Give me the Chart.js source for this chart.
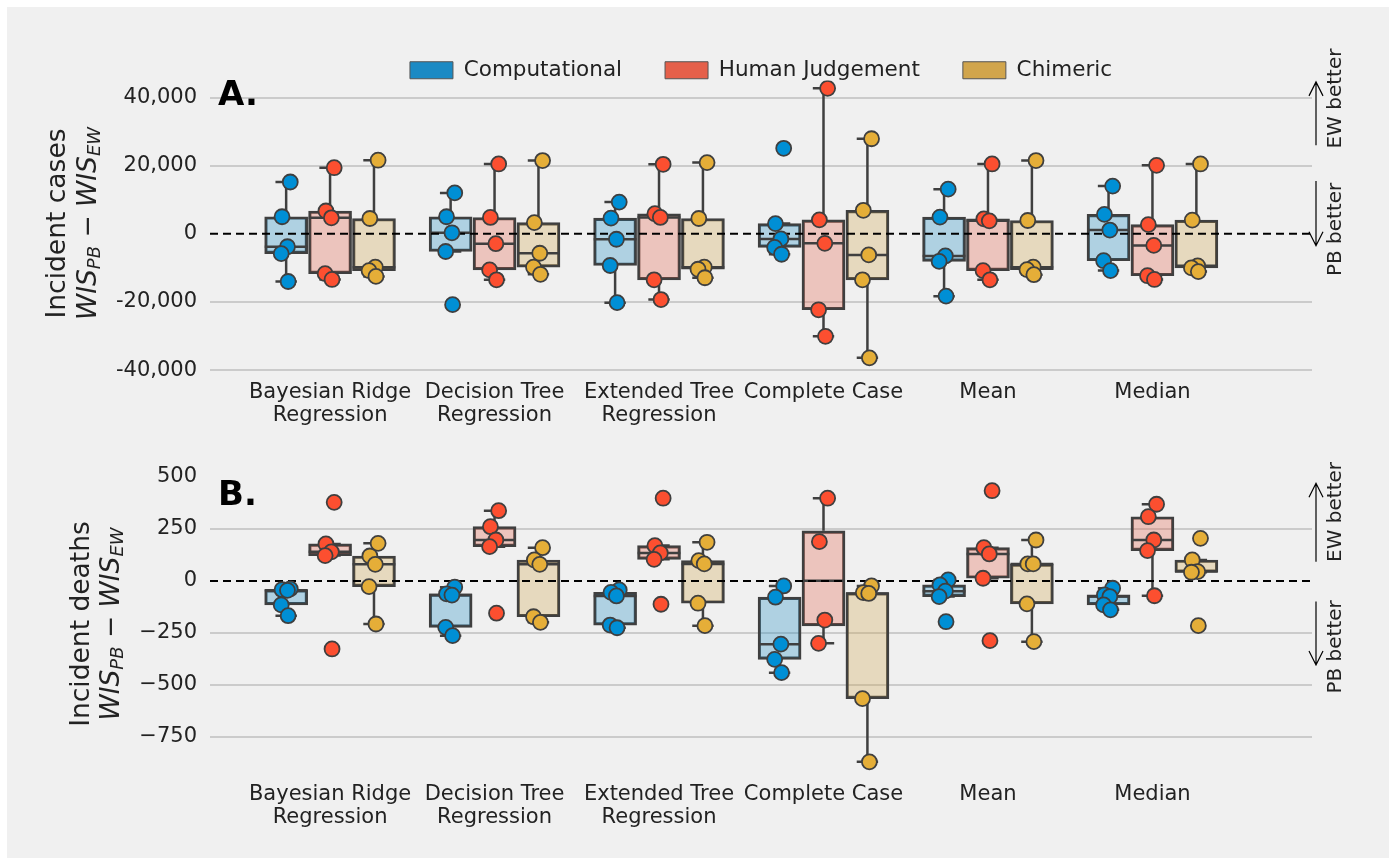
<!DOCTYPE html>
<html>
<head>
<meta charset="utf-8">
<script src="https://cdn.jsdelivr.net/npm/chart.js@4.4.1/dist/chart.umd.min.js"></script>
<style>
  body { margin: 0; background: #fff; }
  #frame { position: absolute; left: 7px; top: 7px; width: 1382px; height: 851px; background: #f0f0f0; }
  canvas { position: absolute; left: 0; }
  #cases { top: 0; }
  #deaths { top: 430px; }
</style>
</head>
<body>
<div id="frame"></div>
<canvas id="cases" width="1396" height="430"></canvas>
<canvas id="deaths" width="1396" height="435"></canvas>
<script>
// categories and groups
const categories = [['Bayesian Ridge', 'Regression'], ['Decision Tree', 'Regression'], ['Extended Tree', 'Regression'], 'Complete Case', 'Mean', 'Median'];
const groups = ['Computational', 'Human Judgement', 'Chimeric'];

const casesTicks = [-40000, -20000, 0, 20000, 40000];
const deathsTicks = [-750, -500, -250, 0, 250, 500];

// WIS_PB - WIS_EW, incident cases (one list of forecasts per category)
const casesComputational = [
  [15200, 5000, -3800, -5800, -14000],
  [12000, 5000, 300, -5200, -20800],
  [9300, 4600, -1600, -9300, -20200],
  [25100, 3000, -1500, -4000, -6000],
  [13100, 4900, -6500, -8100, -18300],
  [14000, 5700, 1100, -7900, -10800]
];
const casesHuman = [
  [19400, 6700, 4700, -11700, -13400],
  [20500, 4800, -2900, -10600, -13500],
  [20400, 5900, 4800, -13500, -19300],
  [42700, 4100, -2800, -22300, -30100],
  [20500, 4400, 3800, -10800, -13500],
  [20100, 2700, -3400, -12300, -13400]
];
const casesChimeric = [
  [21600, 4500, -9800, -10800, -12500],
  [21500, 3300, -5700, -9800, -11900],
  [20900, 4500, -9800, -10400, -12900],
  [27900, 6900, -6200, -13500, -36400],
  [21500, 3900, -9800, -10500, -12000],
  [20500, 4000, -9400, -10000, -11100]
];

// WIS_PB - WIS_EW, incident deaths
const deathsComputational = [
  [-38, -42, -45, -115, -167],
  [-30, -62, -68, -223, -263],
  [-43, -55, -72, -212, -225],
  [-24, -78, -304, -377, -441],
  [5, -19, -49, -75, -196],
  [-35, -67, -75, -115, -139]
];
const deathsHuman = [
  [378, 178, 140, 122, -327],
  [338, 261, 197, 165, -155],
  [398, 170, 135, 104, -112],
  [398, 189, -188, -300],
  [434, 160, 130, 13, -287],
  [369, 309, 197, 146, -71]
];
const deathsChimeric = [
  [181, 120, 80, -27, -207],
  [160, 101, 80, -172, -199],
  [186, 98, 82, -107, -215],
  [-24, -56, -60, -566, -870],
  [197, 82, 82, -110, -292],
  [205, 101, 45, 42, -215]
];

// styling
const FONT = 'DejaVu Sans';
const TEXT = '#222';
const EDGE = '#3f3f3f';
const pointColors = ['#008fd5', '#fc4f30', '#e5ae38'];
const legendColors = ['#1b8ac4', '#e5604a', '#d1a54c'];
const boxColors = ['rgba(27,138,196,0.3)', 'rgba(229,96,74,0.3)', 'rgba(209,165,76,0.3)'];
const offsets = [-0.267, 0, 0.267];
const boxHalf = 0.13;
const jitter = [0.025, -0.025, 0.008, -0.03, 0.012];
const X_MIN = -0.73, X_MAX = 5.97;

function quantile(s, p) {
  const pos = (s.length - 1) * p;
  const lo = Math.floor(pos), hi = Math.ceil(pos);
  return s[lo] + (s[hi] - s[lo]) * (pos - lo);
}

function boxStats(values) {
  const s = [...values].sort((a, b) => a - b);
  const q1 = quantile(s, 0.25), med = quantile(s, 0.5), q3 = quantile(s, 0.75);
  const iqr = q3 - q1;
  const lo = Math.min(...s.filter(v => v >= q1 - 1.5 * iqr));
  const hi = Math.max(...s.filter(v => v <= q3 + 1.5 * iqr));
  return { q1, med, q3, lo, hi };
}

function buildDatasets(series) {
  const boxes = [], lines = [], points = [];
  series.forEach((cats, g) => {
    const boxData = [], lineData = [], pointData = [];
    cats.forEach((vals, i) => {
      const x = i + offsets[g];
      const st = boxStats(vals);
      boxData.push({ x, y: [st.q1, st.q3] });
      const cap = boxHalf / 2;
      lineData.push(
        { x, y: st.q3 }, { x, y: st.hi }, { x, y: null },
        { x, y: st.q1 }, { x, y: st.lo }, { x, y: null },
        { x: x - cap, y: st.hi }, { x: x + cap, y: st.hi }, { x, y: null },
        { x: x - cap, y: st.lo }, { x: x + cap, y: st.lo }, { x, y: null },
        { x: x - boxHalf, y: st.med }, { x: x + boxHalf, y: st.med }, { x, y: null }
      );
      vals.forEach((v, k) => pointData.push({ x: x + jitter[k % jitter.length], y: v }));
    });
    boxes.push({
      type: 'bar', label: groups[g], data: boxData,
      backgroundColor: boxColors[g], borderColor: EDGE, borderWidth: 2.5,
      borderSkipped: false, grouped: false, barThickness: 43, order: 4
    });
    lines.push({
      type: 'line', data: lineData, borderColor: EDGE, borderWidth: 2.5,
      pointRadius: 0, spanGaps: false, order: 3
    });
    points.push({
      type: 'scatter', data: pointData, showLine: false,
      pointRadius: 7.5, pointHoverRadius: 7.5,
      pointBackgroundColor: pointColors[g], pointBorderColor: EDGE, pointBorderWidth: 1.8,
      order: 1
    });
  });
  const zero = {
    type: 'line', data: [{ x: X_MIN, y: 0 }, { x: X_MAX, y: 0 }],
    borderColor: '#000', borderWidth: 2, borderDash: [8, 5], pointRadius: 0, order: 2
  };
  return [...boxes, ...lines, zero, ...points];
}

function drawArrow(ctx, x, y0, y1) {
  const dir = Math.sign(y1 - y0);
  ctx.beginPath();
  ctx.moveTo(x, y0); ctx.lineTo(x, y1);
  ctx.moveTo(x - 7, y1 - dir * 14); ctx.lineTo(x, y1); ctx.lineTo(x + 7, y1 - dir * 14);
  ctx.stroke();
}

const decor = {
  id: 'decor',
  afterDraw(chart, args, o) {
    const { ctx, chartArea: a } = chart;
    const y = chart.scales.y;
    ctx.save();
    ctx.fillStyle = '#000';
    ctx.textBaseline = 'middle';
    ctx.textAlign = 'left';
    ctx.font = 'bold 34px ' + FONT;
    ctx.fillText(o.letter, a.left + 8, a.top + o.letterDy);

    // y title, two rotated lines
    const cy = a.top + o.titleDy;
    ctx.fillStyle = TEXT;
    ctx.save();
    ctx.translate(o.titleX[0], cy);
    ctx.rotate(-Math.PI / 2);
    ctx.textAlign = 'center';
    ctx.font = '26.5px ' + FONT;
    ctx.fillText(o.title, 0, 0);
    ctx.restore();

    const parts = [
      { t: 'WIS', f: 'italic 26.5px ' + FONT, dy: 0 },
      { t: 'PB', f: 'italic 18px ' + FONT, dy: 6 },
      { t: ' \u2212 ', f: '26.5px ' + FONT, dy: 0 },
      { t: 'WIS', f: 'italic 26.5px ' + FONT, dy: 0 },
      { t: 'EW', f: 'italic 18px ' + FONT, dy: 6 }
    ];
    let total = 0;
    parts.forEach(p => { ctx.font = p.f; p.w = ctx.measureText(p.t).width; total += p.w; });
    ctx.save();
    ctx.translate(o.titleX[1], cy);
    ctx.rotate(-Math.PI / 2);
    ctx.textAlign = 'left';
    let cx = -total / 2;
    parts.forEach(p => { ctx.font = p.f; ctx.fillText(p.t, cx, p.dy); cx += p.w; });
    ctx.restore();

    // better/worse annotations on the right
    const n = o.notes;
    ctx.strokeStyle = '#000';
    ctx.lineWidth = 1.2;
    const ax = a.right + 4;
    drawArrow(ctx, ax, y.getPixelForValue(n.ew[0]), y.getPixelForValue(n.ew[1]));
    drawArrow(ctx, ax, y.getPixelForValue(n.pb[0]), y.getPixelForValue(n.pb[1]));
    ctx.font = '20px ' + FONT;
    ctx.textAlign = 'center';
    [[n.ewText, 'EW better'], [n.pbText, 'PB better']].forEach(([v, t]) => {
      ctx.save();
      ctx.translate(a.right + 24, y.getPixelForValue(v));
      ctx.rotate(-Math.PI / 2);
      ctx.fillText(t, 0, 0);
      ctx.restore();
    });
    ctx.restore();
  }
};

// the legend sits closer to the plot than Chart.js leaves by default
const legendFit = {
  id: 'legendFit',
  afterInit(chart) {
    const fit = chart.legend.fit;
    chart.legend.fit = function () { fit.call(this); if (this.height) this.height -= 10.5; };
  }
};

function makeChart(id, series, cfg) {
  return new Chart(document.getElementById(id), {
    type: 'scatter',
    data: { datasets: buildDatasets(series) },
    plugins: cfg.legend ? [decor, legendFit] : [decor],
    options: {
      responsive: false,
      animation: false,
      events: [],
      layout: { padding: { left: 0, right: 84, top: cfg.padTop, bottom: 0 } },
      scales: {
        x: {
          type: 'linear', min: X_MIN, max: X_MAX, offset: false, bounds: 'data',
          afterBuildTicks: s => { s.ticks = categories.map((c, i) => ({ value: i })); },
          afterFit: s => { s.height = cfg.xHeight; },
          grid: { display: false, drawTicks: false },
          border: { display: false },
          ticks: {
            autoSkip: false, maxRotation: 0, padding: 2, color: TEXT,
            font: { family: FONT, size: 21, lineHeight: 1.1 },
            callback: v => categories[v]
          }
        },
        y: {
          min: cfg.yMin, max: cfg.yMax, bounds: 'data',
          afterBuildTicks: s => { s.ticks = cfg.ticks.map(v => ({ value: v })); },
          afterFit: s => { s.width = 210; },
          grid: {
            drawTicks: false, lineWidth: 2,
            color: c => (c.tick && cfg.noGrid.includes(c.tick.value)) ? 'rgba(0,0,0,0)' : '#cbcbcb'
          },
          border: { display: false },
          ticks: { padding: 13, color: TEXT, font: { family: FONT, size: 21 }, callback: cfg.fmt }
        }
      },
      plugins: {
        tooltip: { enabled: false },
        legend: {
          display: !!cfg.legend,
          position: 'top',
          fullSize: false,
          onClick: null,
          labels: {
            boxWidth: 43, boxHeight: 17, padding: 43, color: TEXT,
            font: { family: FONT, size: 21.5 },
            generateLabels: () => groups.map((g, i) => ({
              text: g, fillStyle: legendColors[i], strokeStyle: '#555', lineWidth: 1,
              fontColor: TEXT, datasetIndex: i, hidden: false
            }))
          }
        },
        decor: cfg.decor
      }
    }
  });
}

makeChart('cases', [casesComputational, casesHuman, casesChimeric], {
  legend: true, padTop: 16.5, xHeight: 51.4,
  yMin: -42500, yMax: 45000, ticks: casesTicks, noGrid: [0],
  fmt: v => v.toLocaleString('en-US'),
  decor: {
    letter: 'A.', letterDy: 16, title: 'Incident cases', titleX: [58, 89], titleDy: 143,
    notes: { ew: [26000, 44600], ewText: 39700, pb: [15500, -3500], pbText: 1300 }
  }
});

makeChart('deaths', [deathsComputational, deathsHuman, deathsChimeric], {
  legend: false, padTop: 47, xHeight: 84,
  yMin: -962, yMax: 500, ticks: deathsTicks, noGrid: [0, 500],
  fmt: v => (v < 0 ? '\u2212' + Math.abs(v) : String(v)),
  decor: {
    letter: 'B.', letterDy: 19, title: 'Incident deaths', titleX: [82, 112], titleDy: 147,
    notes: { ew: [93, 470], ewText: 332, pb: [-99, -404], pbText: -317 }
  }
});
</script>
</body>
</html>
